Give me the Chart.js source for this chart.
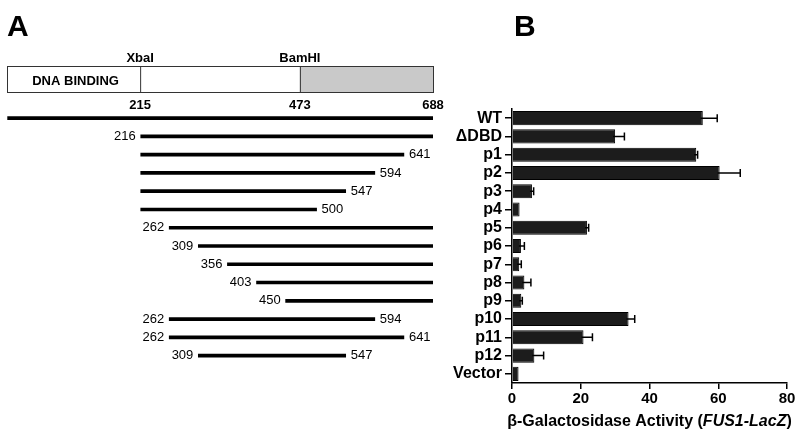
<!DOCTYPE html>
<html>
<head>
<meta charset="utf-8">
<script src="https://cdn.jsdelivr.net/npm/chart.js@4/dist/chart.umd.min.js"></script>
<style>
  body { margin: 0; background: #fff; }
  #wrap { position: relative; width: 800px; height: 433px; }
  #wrap canvas { position: absolute; left: 0; top: 0; }
</style>
</head>
<body>
<div id="wrap">
  <canvas id="mapChart" width="800" height="433"></canvas>
  <canvas id="actChart" width="800" height="433"></canvas>
</div>
<script>
// rows shared by both panels
var constructs = ['WT', '\u0394DBD', 'p1', 'p2', 'p3', 'p4', 'p5', 'p6', 'p7', 'p8', 'p9', 'p10', 'p11', 'p12', 'Vector'];

// panel A: fragment boundaries (amino acids), Vector has none
var fragStart = [1, 216, 216, 216, 216, 216, 262, 309, 356, 403, 450, 262, 262, 309, null];
var fragEnd   = [688, 688, 641, 594, 547, 500, 688, 688, 688, 688, 688, 594, 641, 547, null];
var proteinLength = 688;
var sites = [215, 473, 688];
var siteNames = ['XbaI', 'BamHI', ''];

// panel B: beta-galactosidase activity
var activity = [55.5, 30.0, 53.6, 60.4, 5.8, 2.2, 21.8, 2.6, 2.1, 3.6, 2.7, 33.9, 20.8, 6.5, 1.9];
var actError = [4.2, 2.7, 0.4, 6.0, 0.5, 0, 0.5, 1.0, 0.6, 1.9, 0.3, 1.8, 2.6, 2.7, 0];
var actTicks = [0, 20, 40, 60, 80];

var FONT = '"Liberation Sans", Arial, Helvetica, sans-serif';

var mapPlugin = {
  id: 'mapPlugin',
  afterDraw: function(chart) {
    var ctx = chart.ctx;
    var xs = chart.scales.x;
    var meta = chart.getDatasetMeta(0);
    ctx.save();
    // panel letter
    ctx.fillStyle = '#000';
    ctx.font = 'bold 30px ' + FONT;
    ctx.textAlign = 'left';
    ctx.textBaseline = 'alphabetic';
    ctx.fillText('A', 7, 36);

    // domain box
    var x0 = xs.getPixelForValue(0), x1 = xs.getPixelForValue(sites[0]);
    var x2 = xs.getPixelForValue(sites[1]), x3 = xs.getPixelForValue(proteinLength);
    var top = 66, bot = 92;
    ctx.fillStyle = '#c9c9c9';
    ctx.fillRect(x2, top, x3 - x2, bot - top);
    ctx.strokeStyle = '#333';
    ctx.lineWidth = 1;
    ctx.strokeRect(x0 + 0.5, top + 0.5, x3 - x0, bot - top);
    ctx.beginPath();
    ctx.moveTo(x1 + 0.5, top); ctx.lineTo(x1 + 0.5, bot);
    ctx.moveTo(x2 + 0.5, top); ctx.lineTo(x2 + 0.5, bot);
    ctx.stroke();

    ctx.fillStyle = '#000';
    ctx.font = 'bold 13px ' + FONT;
    ctx.textAlign = 'center';
    ctx.fillText('DNA BINDING', (x0 + x1) / 2 + 2, 85);
    sites.forEach(function(s, i) {
      var px = xs.getPixelForValue(s);
      if (siteNames[i]) ctx.fillText(siteNames[i], px, 62);
      ctx.fillText(String(s), px, 109);
    });

    // fragment end labels
    ctx.font = '13px ' + FONT;
    ctx.textBaseline = 'middle';
    meta.data.forEach(function(bar, i) {
      var s = fragStart[i], e = fragEnd[i];
      if (s === null) return;
      var y = bar.y;
      var showStart = s !== 1 && !(s === 216 && e < proteinLength);
      if (showStart) {
        ctx.textAlign = 'right';
        ctx.fillText(String(s), xs.getPixelForValue(s) - 5, y);
      }
      if (e < proteinLength) {
        ctx.textAlign = 'left';
        ctx.fillText(String(e), xs.getPixelForValue(e) + 5, y);
      }
    });
    ctx.restore();
  }
};

new Chart(document.getElementById('mapChart'), {
  type: 'bar',
  data: {
    labels: constructs,
    datasets: [{
      data: fragStart.map(function(s, i) { return s === null ? null : [s, fragEnd[i]]; }),
      backgroundColor: '#000',
      barThickness: 3
    }]
  },
  options: {
    indexAxis: 'y',
    responsive: false,
    animation: false,
    layout: { padding: { left: 7, right: 367, top: 109, bottom: 50 } },
    plugins: { legend: { display: false }, tooltip: { enabled: false } },
    scales: {
      x: { display: false, min: 0, max: proteinLength },
      y: { display: false }
    }
  },
  plugins: [mapPlugin]
});

var actPlugin = {
  id: 'actPlugin',
  afterDatasetsDraw: function(chart) {
    var ctx = chart.ctx;
    var xs = chart.scales.x;
    var meta = chart.getDatasetMeta(0);
    ctx.save();
    ctx.strokeStyle = '#000';
    ctx.lineWidth = 1.5;
    meta.data.forEach(function(bar, i) {
      if (!actError[i]) return;
      var xa = xs.getPixelForValue(activity[i]);
      var xb = xs.getPixelForValue(activity[i] + actError[i]);
      ctx.beginPath();
      ctx.moveTo(xa - 2, bar.y); ctx.lineTo(xb, bar.y);
      ctx.moveTo(xb, bar.y - 4); ctx.lineTo(xb, bar.y + 4);
      ctx.stroke();
    });
    ctx.restore();
  },
  afterDraw: function(chart) {
    var ctx = chart.ctx;
    var area = chart.chartArea;
    ctx.save();
    ctx.fillStyle = '#000';
    ctx.font = 'bold 30px ' + FONT;
    ctx.textBaseline = 'alphabetic';
    ctx.textAlign = 'left';
    ctx.fillText('B', 514, 36);

    // axis title with italic reporter name
    var parts = [['\u03b2-Galactosidase Activity (', 'bold'], ['FUS1-LacZ', 'italic bold'], [')', 'bold']];
    var size = 16;
    var total = 0;
    parts.forEach(function(p) { ctx.font = p[1] + ' ' + size + 'px ' + FONT; total += ctx.measureText(p[0]).width; });
    var x = (area.left + area.right) / 2 - total / 2;
    parts.forEach(function(p) {
      ctx.font = p[1] + ' ' + size + 'px ' + FONT;
      ctx.fillText(p[0], x, 426);
      x += ctx.measureText(p[0]).width;
    });
    ctx.restore();
  }
};

new Chart(document.getElementById('actChart'), {
  type: 'bar',
  data: {
    labels: constructs,
    datasets: [{
      data: activity,
      backgroundColor: '#1c1c1c',
      borderColor: '#000',
      borderWidth: 1,
      barPercentage: 0.77,
      categoryPercentage: 1
    }]
  },
  options: {
    indexAxis: 'y',
    responsive: false,
    animation: false,
    layout: { padding: { left: 440, right: 13, top: 109, bottom: 0 } },
    plugins: { legend: { display: false }, tooltip: { enabled: false } },
    scales: {
      x: {
        min: 0, max: 80,
        afterBuildTicks: function(s) { s.ticks = actTicks.map(function(v) { return { value: v }; }); },
        ticks: { color: '#000', font: { family: FONT, size: 15, weight: 'bold' }, padding: 1 },
        grid: { drawOnChartArea: false, tickLength: 6, color: '#000', lineWidth: 1.5 },
        border: { color: '#000', width: 1.5 },
        afterFit: function(s) { s.height = 50; }
      },
      y: {
        ticks: { color: '#000', font: { family: FONT, size: 16, weight: 'bold' }, padding: 3, autoSkip: false },
        grid: { drawOnChartArea: false, offset: false, tickLength: 7, color: '#000', lineWidth: 1.5 },
        border: { color: '#000', width: 1.5 },
        afterFit: function(s) { s.width = 72; }
      }
    }
  },
  plugins: [actPlugin]
});
</script>
</body>
</html>
